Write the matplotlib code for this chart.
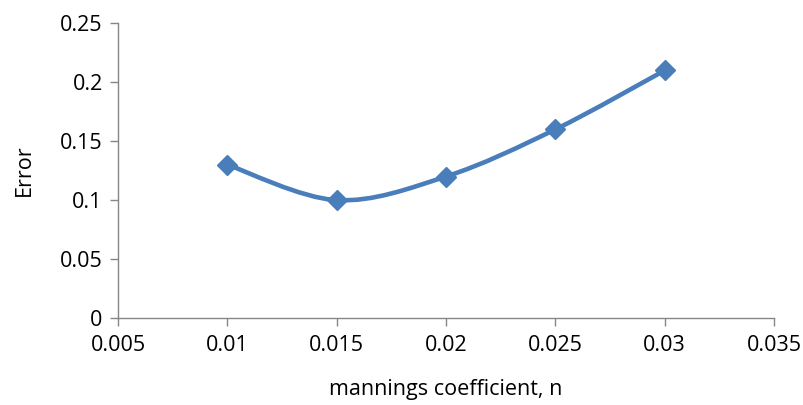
import numpy as np
import matplotlib
matplotlib.use("Agg")
import matplotlib.pyplot as plt
from matplotlib.path import Path
from matplotlib.patches import PathPatch

# Datos del gráfico
manning_n = [0.01, 0.015, 0.02, 0.025, 0.03]
error = [0.13, 0.10, 0.12, 0.16, 0.21]
x_ticks = [0.005, 0.01, 0.015, 0.02, 0.025, 0.03, 0.035]
y_ticks = [0, 0.05, 0.1, 0.15, 0.2, 0.25]

color = "#4a7ebb"
plt.rcParams['font.family'] = ['Open Sans', 'DejaVu Sans']


def curva_suave(xs, ys):
    """Curva tipo Excel (Catmull-Rom en Bezier cúbicas) entre los puntos."""
    p = np.column_stack([xs, ys])
    verts = [p[0]]
    codes = [Path.MOVETO]
    n = len(p)
    for i in range(n - 1):
        p0 = p[i - 1] if i > 0 else p[i]
        p3 = p[i + 2] if i + 2 < n else p[i + 1]
        c1 = p[i] + (p[i + 1] - p0) / 6
        c2 = p[i + 1] - (p3 - p[i]) / 6
        verts += [c1, c2, p[i + 1]]
        codes += [Path.CURVE4] * 3
    return Path(verts, codes)


fig = plt.figure(figsize=(8.04, 4.05), dpi=100)
ax = fig.add_axes([0.1468, 0.2148, 0.8159, 0.7277])

ax.add_patch(PathPatch(curva_suave(manning_n, error), fill=False,
                       edgecolor=color, lw=3.3, capstyle='round', zorder=2))
ax.plot(manning_n, error, linestyle='none', marker='D', markersize=10,
        color=color, zorder=3)

ax.set_xlim(0.005, 0.035)
ax.set_ylim(0, 0.25)
ax.set_xticks(x_ticks)
ax.set_xticklabels([f"{v:g}" for v in x_ticks])
ax.set_yticks(y_ticks)
ax.set_yticklabels([f"{v:g}" for v in y_ticks])

for s in ['top', 'right']:
    ax.spines[s].set_visible(False)
for s in ['left', 'bottom']:
    ax.spines[s].set_color('#868686')
    ax.spines[s].set_linewidth(1)
ax.tick_params(colors='#868686', labelcolor='black', labelsize=15.5,
               length=6, width=1, direction='out')
ax.tick_params(axis='x', pad=6)
ax.tick_params(axis='y', pad=5)

ax.set_xlabel("mannings coefficient, n", fontsize=15.5, labelpad=17)
ax.set_ylabel("Error", fontsize=15.5, labelpad=18)

fig.savefig("out.png", dpi=100)
